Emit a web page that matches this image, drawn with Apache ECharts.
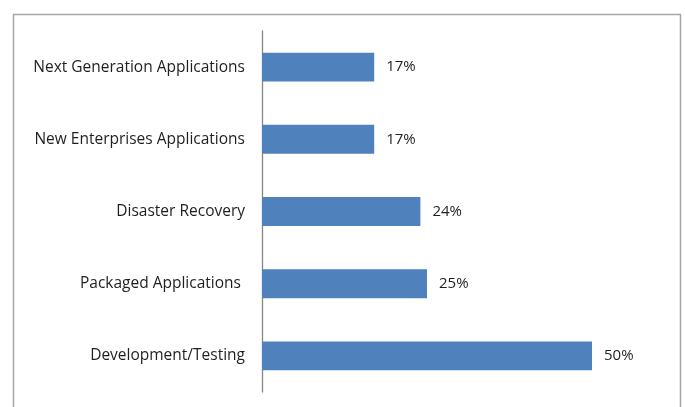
<!DOCTYPE html>
<html><head><meta charset="utf-8">
<script src="https://cdn.jsdelivr.net/npm/echarts@6/dist/echarts.min.js"></script>
<style>html,body{margin:0;padding:0;background:#fff}#c{width:685px;height:407px}</style>
</head><body><div id="c"></div>
<script>
const categories = ["Development/Testing", "Packaged Applications ", "Disaster Recovery", "New Enterprises Applications", "Next Generation Applications"];
const values = [50, 25, 24, 17, 17];

const chart = echarts.init(document.getElementById('c'), null, {renderer: 'canvas'});
chart.setOption({
  animation: false,
  backgroundColor: '#fff',
  graphic: [{
    type: 'rect', left: 11, top: 12,
    shape: {width: 667, height: 410},
    style: {fill: 'none', stroke: '#a6a6a6', lineWidth: 1.5}, silent: true
  }],
  grid: {left: 262, top: 31, bottom: 15, width: 396},
  xAxis: {type: 'value', min: 0, max: 60, show: false},
  yAxis: {
    type: 'category', data: categories,
    axisLine: {show: true, lineStyle: {color: '#868686', width: 1.3}},
    axisTick: {show: false},
    axisLabel: {color: '#1f1f1f', fontSize: 15.5, fontFamily: 'Open Sans', margin: 17}
  },
  series: [{
    type: 'bar', data: values, barCategoryGap: '60%',
    itemStyle: {color: '#4f81bd'},
    label: {show: true, position: 'right', distance: 12, formatter: '{c}%',
      color: '#1f1f1f', fontSize: 15, fontFamily: 'Open Sans'}
  }]
});
</script></body></html>
